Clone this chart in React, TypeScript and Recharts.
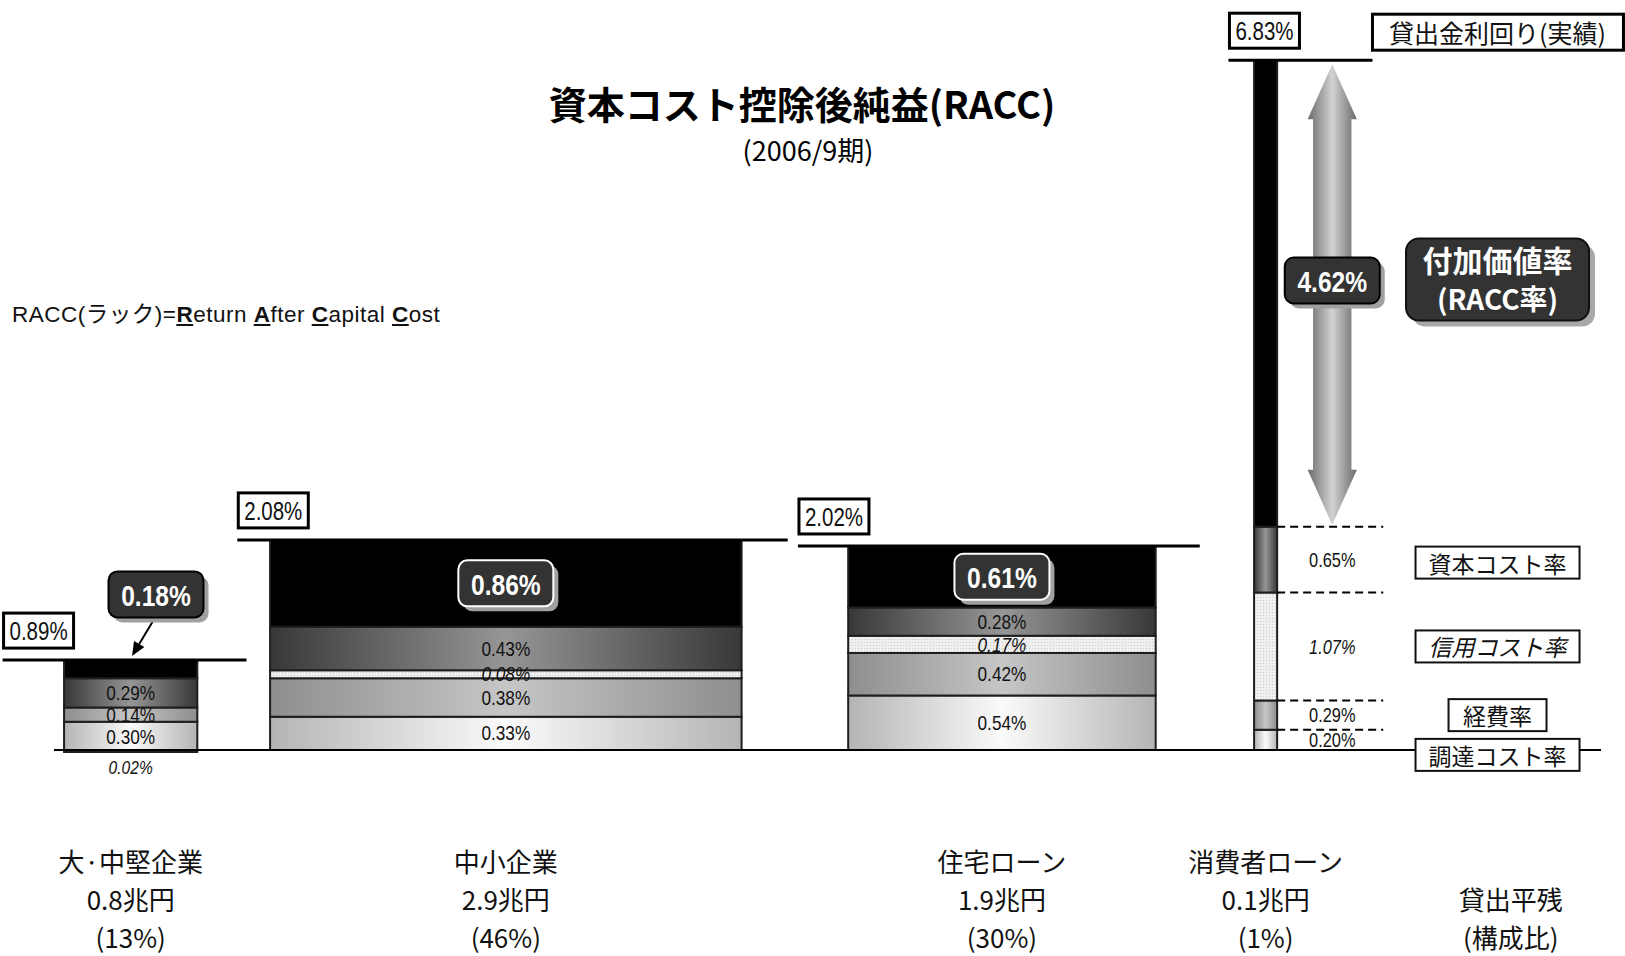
import React from "react";
import { ComposedChart, XAxis, YAxis, Scatter, ReferenceArea, ReferenceLine } from "recharts";

// 資本コスト控除後純益 (2006/9期) — 区分別
const categories = ["大·中堅企業", "中小企業", "住宅ローン", "消費者ローン"];
const balances = ["0.8兆円", "2.9兆円", "1.9兆円", "0.1兆円"];
const shares = [13, 46, 30, 1];
const fundingCost = [0.3, 0.33, 0.54, 0.2];
const expenseRate = [0.14, 0.38, 0.42, 0.29];
const creditCost = [-0.02, 0.08, 0.17, 1.07];
const capitalCost = [0.29, 0.43, 0.28, 0.65];
const raccRate = [0.18, 0.86, 0.61, 4.62];
const loanYield = [0.89, 2.08, 2.02, 6.83];
const costNames: Record<string, string> = {
  funding: "調達コスト率",
  expense: "経費率",
  credit: "信用コスト率",
  capital: "資本コスト率",
};

// layout
const W = 1625;
const H = 956;
const PX = 10.25; // px per share point
const X_MAX = W / PX;
const Y_MIN = -2.04;
const Y_MAX = 7.426;
const gapBefore = [6.25, 7.1, 10.4, 9.6];
const minBarWidth = 2.25;
const lineExtLeft = [6.0, 3.2, 4.9, 2.5];
const lineExtRight = [4.8, 4.5, 4.3, 9.3];
const sideOffset = 6.5;
const guideLen = 10.35;
const legendX = 146.1;
const catLabelY = -1.09;

const JP = "'Noto Sans CJK JP', 'Noto Sans', sans-serif";
const NUM = "'Liberation Sans', Arial, sans-serif";

const segFill: Record<string, string> = {
  funding: "url(#gFunding)",
  expense: "url(#gExpense)",
  credit: "url(#pCredit)",
  capital: "url(#gCapital)",
  racc: "#000",
};

const pct = (v: number) => `${Math.abs(v).toFixed(2)}%`;

type Seg = { kind: string; value: number; lo: number; hi: number };

const bars = (() => {
  let cursor = 0;
  return categories.map((name, i) => {
    const left = cursor + gapBefore[i];
    const right = left + Math.max(shares[i], minBarWidth);
    cursor = right;
    const base = Math.min(0, creditCost[i]);
    const parts: [string, number][] = [
      ["funding", fundingCost[i]],
      ["expense", expenseRate[i]],
    ];
    if (creditCost[i] > 0) parts.push(["credit", creditCost[i]]);
    parts.push(["capital", capitalCost[i]], ["racc", raccRate[i]]);
    let level = base;
    const segs: Seg[] = parts.map(([kind, value]) => {
      const s = { kind, value, lo: level, hi: level + value };
      level += value;
      return s;
    });
    return { i, name, left, right, center: (left + right) / 2, narrow: right - left < 5, base, segs };
  });
})();

const narrowBar = bars.find((b) => b.narrow)!;
const narrowRacc = narrowBar.segs[narrowBar.segs.length - 1];

const segLabels = bars.flatMap((b) => {
  const pts: any[] = b.segs
    .filter((s) => s.kind !== "racc")
    .map((s) => ({
      x: b.narrow ? b.center + sideOffset : b.center,
      y: (s.lo + s.hi) / 2,
      text: pct(s.value),
      italic: s.kind === "credit",
      size: b.narrow ? 20 : 21,
    }));
  if (creditCost[b.i] < 0) {
    pts.push({ x: b.center, y: b.base - 0.15, text: pct(creditCost[b.i]), italic: true, size: 19 });
  }
  return pts;
});

const badges = bars.map((b) => {
  const r = b.segs[b.segs.length - 1];
  const text = pct(raccRate[b.i]);
  if (b.narrow) return { x: b.center + sideOffset, y: (r.lo + r.hi) / 2, text, inside: false, dy: -13 };
  if (r.value < 0.4) return { x: b.center + 2.47, y: loanYield[b.i] + 0.65, text, inside: false, dy: 0 };
  return { x: b.center, y: (r.lo + r.hi) / 2, text, inside: true, dy: 0 };
});

const pointers = bars
  .filter((b) => !b.narrow && raccRate[b.i] < 0.4)
  .map((b) => [
    { x: b.center + 2.37, y: loanYield[b.i] + 0.42 },
    { x: b.center + 0.13, y: loanYield[b.i] + 0.04 },
  ]);

const totals = bars.map((b) => ({ x: b.left - lineExtLeft[b.i], y: loanYield[b.i], text: pct(loanYield[b.i]) }));

const legendItems = narrowBar.segs
  .filter((s) => s.kind !== "racc")
  .map((s) => ({
    x: legendX,
    y: (s.lo + s.hi) / 2,
    text: costNames[s.kind],
    italic: s.kind === "credit",
    dy: s.kind === "funding" ? 15 : s.kind === "capital" ? 3 : 0,
  }));

const raccLegend = [{ x: legendX, y: (narrowRacc.lo + narrowRacc.hi) / 2, dy: -14 }];
const yieldLegend = [{ x: narrowBar.right + lineExtRight[narrowBar.i], y: loanYield[narrowBar.i] }];

const catLabels = [
  ...bars.map((b) => ({ x: b.center, y: catLabelY, lines: [b.name, balances[b.i], `(${shares[b.i]}%)`] })),
  { x: 147.4, y: catLabelY, lines: ["", "貸出平残", "(構成比)"] },
];

function NText({ x, y, size, children, italic, bold, fill = "#111", sx = 0.82 }: any) {
  return (
    <text
      transform={`translate(${x},${y}) scale(${sx},1)`}
      textAnchor="middle"
      dominantBaseline="central"
      fontFamily={NUM}
      fontSize={size}
      fontStyle={italic ? "italic" : "normal"}
      fontWeight={bold ? "bold" : "normal"}
      fill={fill}
    >
      {children}
    </text>
  );
}

const SegLabel = (p: any) => (
  <NText x={p.cx} y={p.cy} size={p.payload.size} italic={p.payload.italic}>
    {p.payload.text}
  </NText>
);

const Badge = (p: any) => {
  const w = 95;
  const h = 46;
  const x = p.cx - w / 2;
  const y = p.cy + p.payload.dy - h / 2;
  return (
    <g>
      <rect x={x + 5} y={y + 5} width={w} height={h} rx={9} fill="#a0a0a0" />
      <rect x={x} y={y} width={w} height={h} rx={9} fill="#333" stroke={p.payload.inside ? "#fff" : "#000"} strokeWidth={2} />
      <NText x={p.cx} y={y + h / 2 + 1} size={30} bold fill="#fff">
        {p.payload.text}
      </NText>
    </g>
  );
};

const TotalBox = (p: any) => {
  const w = 70;
  const h = 35;
  const x = p.cx + 1;
  const y = p.cy - 12 - h;
  return (
    <g>
      <rect x={x} y={y} width={w} height={h} fill="#fff" stroke="#000" strokeWidth={3} />
      <NText x={x + w / 2} y={y + h / 2 + 1} size={25}>
        {p.payload.text}
      </NText>
    </g>
  );
};

const LegendBox = (p: any) => {
  const d = p.payload;
  const w = d.text.length * 22 + 32;
  const h = 32;
  const cy = p.cy + d.dy;
  return (
    <g>
      <rect x={p.cx - w / 2} y={cy - h / 2} width={w} height={h} fill="#fff" stroke="#111" strokeWidth={2} />
      <text
        x={p.cx}
        y={cy}
        textAnchor="middle"
        dominantBaseline="central"
        fontFamily={JP}
        fontSize={23}
        fontStyle={d.italic ? "italic" : "normal"}
        fill="#111"
      >
        {d.text}
      </text>
    </g>
  );
};

const RaccLegend = (p: any) => {
  const w = 183;
  const h = 82;
  const x = p.cx - w / 2;
  const y = p.cy + p.payload.dy - h / 2;
  return (
    <g>
      <rect x={x + 6} y={y + 6} width={w} height={h} rx={13} fill="#a8a8a8" />
      <rect x={x} y={y} width={w} height={h} rx={13} fill="#333" stroke="#111" strokeWidth={2} />
      <text x={p.cx} y={y + 21} textAnchor="middle" dominantBaseline="central" fontFamily={JP} fontSize={30} fontWeight="bold" fill="#fff">
        付加価値率
      </text>
      <text x={p.cx} y={y + 60} textAnchor="middle" dominantBaseline="central" fontFamily={JP} fontSize={28} fontWeight="bold" fill="#fff">
        (RACC率)
      </text>
    </g>
  );
};

const YieldLegend = (p: any) => (
  <g>
    <rect x={p.cx} y={p.cy - 46} width={251} height={36} fill="#fff" stroke="#000" strokeWidth={3} />
    <text x={p.cx + 125} y={p.cy - 28} textAnchor="middle" dominantBaseline="central" fontFamily={JP} fontSize={25} fill="#111">
      貸出金利回り(実績)
    </text>
  </g>
);

const CatLabel = (p: any) => (
  <g>
    {p.payload.lines.map((t: string, k: number) =>
      t ? (
        <text key={k} x={p.cx} y={p.cy + k * 38} textAnchor="middle" dominantBaseline="central" fontFamily={JP} fontSize={26} fill="#111">
          {t}
        </text>
      ) : null
    )}
  </g>
);

const BigArrow = (p: any) => {
  const { x, y, width, height } = p;
  const cx = x + width / 2;
  const head = 55;
  const half = (width * 0.78) / 2;
  const pts = [
    [cx, y],
    [x + width, y + head],
    [cx + half, y + head],
    [cx + half, y + height - head],
    [x + width, y + height - head],
    [cx, y + height],
    [x, y + height - head],
    [cx - half, y + height - head],
    [cx - half, y + head],
    [x, y + head],
  ];
  return <polygon points={pts.map((q) => q.join(",")).join(" ")} fill="url(#gArrow)" />;
};

const Pointer = (p: any) => {
  const { x1, y1, x2, y2 } = p;
  const a = Math.atan2(y2 - y1, x2 - x1);
  const L = 14;
  const Wd = 6;
  const bx = x2 - L * Math.cos(a);
  const by = y2 - L * Math.sin(a);
  const nx = -Math.sin(a) * Wd;
  const ny = Math.cos(a) * Wd;
  return (
    <g>
      <line x1={x1} y1={y1} x2={bx} y2={by} stroke="#000" strokeWidth={2} />
      <polygon points={`${x2},${y2} ${bx + nx},${by + ny} ${bx - nx},${by - ny}`} fill="#000" />
    </g>
  );
};

export default function App() {
  return (
    <div style={{ position: "absolute", left: 0, top: 0, width: W, height: H, background: "#fff" }}>
      <ComposedChart width={W} height={H} margin={{ top: 0, right: 0, bottom: 0, left: 0 }}>
        <XAxis type="number" dataKey="x" domain={[0, X_MAX]} hide />
        <YAxis type="number" dataKey="y" domain={[Y_MIN, Y_MAX]} hide />
        <ReferenceLine
          segment={[
            { x: 54 / PX, y: 0 },
            { x: 1601 / PX, y: 0 },
          ]}
          stroke="#000"
          strokeWidth={2}
        />
        {bars.flatMap((b) =>
          b.segs.map((s, k) => (
            <ReferenceArea
              key={`seg-${b.i}-${k}`}
              x1={b.left}
              x2={b.right}
              y1={s.lo}
              y2={s.hi}
              fill={segFill[s.kind]}
              fillOpacity={1}
              stroke="#1e1e1e"
              strokeWidth={2}
            />
          ))
        )}
        {bars.map((b) => (
          <ReferenceLine
            key={`top-${b.i}`}
            segment={[
              { x: b.left - lineExtLeft[b.i], y: loanYield[b.i] },
              { x: b.right + lineExtRight[b.i], y: loanYield[b.i] },
            ]}
            stroke="#000"
            strokeWidth={3}
          />
        ))}
        {narrowBar.segs
          .filter((s) => s.kind !== "racc")
          .map((s, k) => (
            <ReferenceLine
              key={`guide-${k}`}
              segment={[
                { x: narrowBar.right, y: s.hi },
                { x: narrowBar.right + guideLen, y: s.hi },
              ]}
              stroke="#000"
              strokeWidth={2}
              strokeDasharray="8 5"
            />
          ))}
        <ReferenceArea
          x1={narrowBar.center + sideOffset - 2.4}
          x2={narrowBar.center + sideOffset + 2.4}
          y1={narrowRacc.lo + 0.02}
          y2={narrowRacc.hi - 0.04}
          shape={BigArrow}
        />
        {pointers.map((seg, k) => (
          <ReferenceLine key={`ptr-${k}`} segment={seg} stroke="#000" strokeWidth={2} shape={Pointer} />
        ))}
        <Scatter data={segLabels} dataKey="y" shape={SegLabel} isAnimationActive={false} />
        <Scatter data={totals} dataKey="y" shape={TotalBox} isAnimationActive={false} />
        <Scatter data={badges} dataKey="y" shape={Badge} isAnimationActive={false} />
        <Scatter data={legendItems} dataKey="y" shape={LegendBox} isAnimationActive={false} />
        <Scatter data={raccLegend} dataKey="y" shape={RaccLegend} isAnimationActive={false} />
        <Scatter data={yieldLegend} dataKey="y" shape={YieldLegend} isAnimationActive={false} />
        <Scatter data={catLabels} dataKey="y" shape={CatLabel} isAnimationActive={false} />
      </ComposedChart>

      <svg width={W} height={H} style={{ position: "absolute", left: 0, top: 0, pointerEvents: "none" }}>
        <defs>
          <linearGradient id="gFunding" x1="0" x2="1" y1="0" y2="0">
            <stop offset="0" stopColor="#b4b4b4" />
            <stop offset="0.5" stopColor="#fafafa" />
            <stop offset="1" stopColor="#b4b4b4" />
          </linearGradient>
          <linearGradient id="gExpense" x1="0" x2="1" y1="0" y2="0">
            <stop offset="0" stopColor="#8e8e8e" />
            <stop offset="0.5" stopColor="#c6c6c6" />
            <stop offset="1" stopColor="#8e8e8e" />
          </linearGradient>
          <linearGradient id="gCapital" x1="0" x2="1" y1="0" y2="0">
            <stop offset="0" stopColor="#383838" />
            <stop offset="0.5" stopColor="#969696" />
            <stop offset="1" stopColor="#383838" />
          </linearGradient>
          <linearGradient id="gArrow" x1="0" x2="1" y1="0" y2="0">
            <stop offset="0" stopColor="#6a6a6a" />
            <stop offset="0.5" stopColor="#d2d2d2" />
            <stop offset="1" stopColor="#6a6a6a" />
          </linearGradient>
          <pattern id="pCredit" patternUnits="userSpaceOnUse" width="3" height="3">
            <rect width="3" height="3" fill="#efefef" />
            <rect width="1" height="1" fill="#c9c9c9" />
          </pattern>
        </defs>
        <text x={802} y={102} textAnchor="middle" dominantBaseline="central" fontFamily={JP} fontSize={38} fontWeight="bold" fill="#000">
          資本コスト控除後純益(RACC)
        </text>
        <text x={808} y={149} textAnchor="middle" dominantBaseline="central" fontFamily={JP} fontSize={27} fill="#000">
          (2006/9期)
        </text>
      </svg>

      <div
        style={{
          position: "absolute",
          left: 12,
          top: 301,
          fontSize: 22.5,
          letterSpacing: 0.5,
          lineHeight: "28px",
          fontFamily: "'Liberation Sans', 'Noto Sans CJK JP', sans-serif",
          color: "#111",
          whiteSpace: "nowrap",
        }}
      >
        RACC(ラック)=<b><u>R</u></b>eturn <b><u>A</u></b>fter <b><u>C</u></b>apital <b><u>C</u></b>ost
      </div>
    </div>
  );
}
